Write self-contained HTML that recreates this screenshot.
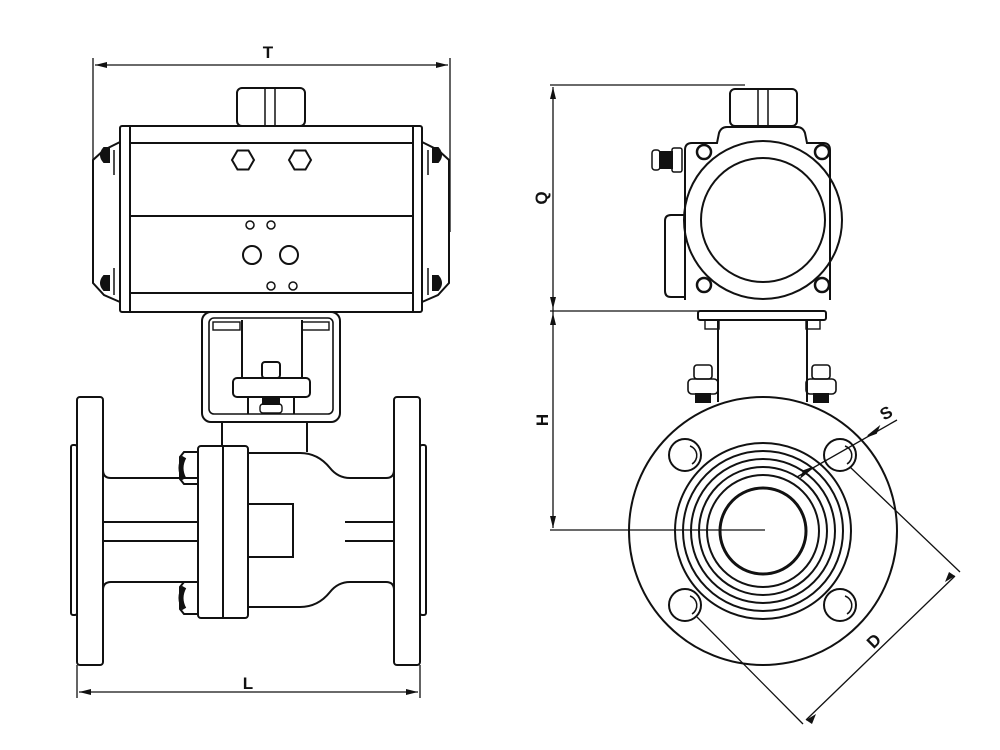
<!DOCTYPE html>
<html><head><style>html,body{margin:0;padding:0;background:#fff}svg{display:block}</style></head>
<body>
<svg width="1000" height="750" viewBox="0 0 1000 750" xmlns="http://www.w3.org/2000/svg" font-family="Liberation Sans, sans-serif">
<g fill="none" stroke="#111" stroke-width="2">
<!-- ===== LEFT VIEW ===== -->
<!-- T dimension -->
<line x1="93" y1="58" x2="93" y2="235" stroke-width="1.3"/>
<line x1="450" y1="58" x2="450" y2="232" stroke-width="1.3"/>
<line x1="95" y1="65" x2="448" y2="65" stroke-width="1.3"/>
<path d="M95 65 l12 -3 v6 z M448 65 l-12 -3 v6 z" fill="#111" stroke="none"/>
<!-- top cap -->
<rect x="237" y="88" width="68" height="38" rx="5"/>
<line x1="265" y1="88" x2="265" y2="126" stroke-width="1.5"/>
<line x1="275" y1="88" x2="275" y2="126" stroke-width="1.5"/>
<!-- actuator body -->
<rect x="120" y="126" width="302" height="186" rx="2"/>
<line x1="130" y1="126" x2="130" y2="312"/>
<line x1="413" y1="126" x2="413" y2="312"/>
<line x1="130" y1="143" x2="413" y2="143"/>
<line x1="130" y1="216" x2="413" y2="216"/>
<line x1="130" y1="293" x2="413" y2="293"/>
<polygon points="232,160 237.5,150.5 248.5,150.5 254,160 248.5,169.5 237.5,169.5"/>
<polygon points="289,160 294.5,150.5 305.5,150.5 311,160 305.5,169.5 294.5,169.5"/>
<circle cx="250" cy="225" r="4" stroke-width="1.5"/><circle cx="271" cy="225" r="4" stroke-width="1.5"/>
<circle cx="252" cy="255" r="9"/><circle cx="289" cy="255" r="9"/>
<circle cx="271" cy="286" r="4" stroke-width="1.5"/><circle cx="293" cy="286" r="4" stroke-width="1.5"/>
<!-- end caps -->
<path d="M120 142 L104 150 L93 160 L93 283 L104 295 L120 302"/>
<path d="M422 142 L438 150 L449 160 L449 283 L438 295 L422 302"/>
<path d="M104 148 q-6 7 0 14 h5 v-14 z M104 276 q-6 7 0 14 h5 v-14 z M438 148 q6 7 0 14 h-5 v-14 z M438 276 q6 7 0 14 h-5 v-14 z" fill="#111"/>
<line x1="114" y1="150" x2="114" y2="175" stroke-width="1.5"/>
<line x1="114" y1="268" x2="114" y2="295" stroke-width="1.5"/>
<line x1="428" y1="150" x2="428" y2="175" stroke-width="1.5"/>
<line x1="428" y1="268" x2="428" y2="295" stroke-width="1.5"/>
<!-- bracket -->
<rect x="202" y="312" width="138" height="110" rx="9"/>
<rect x="209" y="318" width="124" height="96" rx="5" stroke-width="1.6"/>
<rect x="213" y="322" width="27" height="8" stroke-width="1.4"/>
<rect x="302" y="322" width="27" height="8" stroke-width="1.4"/>
<line x1="242" y1="320" x2="242" y2="378"/>
<line x1="302" y1="320" x2="302" y2="378"/>
<rect x="262" y="362" width="18" height="16" rx="3"/>
<rect x="233" y="378" width="77" height="19" rx="4"/>
<line x1="248" y1="397" x2="248" y2="414"/><line x1="294" y1="397" x2="294" y2="414"/>
<rect x="263" y="397" width="16" height="7" fill="#111"/>
<rect x="260" y="404" width="22" height="9" rx="3" stroke-width="1.4"/>
<!-- neck -->
<line x1="222" y1="422" x2="222" y2="446"/>
<line x1="307" y1="422" x2="307" y2="452"/>
<!-- flanges -->
<rect x="77" y="397" width="26" height="268" rx="3"/>
<rect x="71" y="445" width="6" height="170" rx="2"/>
<rect x="394" y="397" width="26" height="268" rx="3"/>
<rect x="420" y="445" width="6" height="170" rx="2"/>
<!-- left pipe -->
<path d="M103 470 q0 8 8 8 H198"/>
<path d="M103 590 q0 -8 8 -8 H198"/>
<line x1="103" y1="522" x2="198" y2="522"/>
<line x1="103" y1="541" x2="198" y2="541"/>
<!-- body flange -->
<rect x="198" y="446" width="50" height="172" rx="3"/>
<line x1="223" y1="446" x2="223" y2="618"/>
<!-- bolts -->
<path d="M198 452 h-14 l-4 5 v22 l4 5 h14 z"/>
<path d="M184 457 q-6 11 0 22" stroke-width="5"/>
<path d="M198 582 h-14 l-4 5 v22 l4 5 h14 z"/>
<path d="M184 587 q-6 11 0 22" stroke-width="5"/>
<!-- body right -->
<path d="M248 453 H300 q18 0 30 15 q8 10 20 10 H386 q8 0 8 -8"/>
<path d="M248 607 H300 q18 0 30 -15 q8 -10 20 -10 H386 q8 0 8 8"/>
<rect x="248" y="504" width="45" height="53"/>
<line x1="345" y1="522" x2="394" y2="522"/>
<line x1="345" y1="541" x2="394" y2="541"/>
<!-- L dimension -->
<line x1="77" y1="665" x2="77" y2="698" stroke-width="1.3"/>
<line x1="420" y1="665" x2="420" y2="698" stroke-width="1.3"/>
<line x1="79" y1="692" x2="418" y2="692" stroke-width="1.3"/>
<path d="M79 692 l12 -3 v6 z M418 692 l-12 -3 v6 z" fill="#111" stroke="none"/>

<!-- ===== RIGHT VIEW ===== -->
<line x1="550" y1="85" x2="745" y2="85" stroke-width="1.3"/>
<line x1="550" y1="311" x2="700" y2="311" stroke-width="1.3"/>
<line x1="550" y1="530" x2="765" y2="530" stroke-width="1.3"/>
<line x1="553" y1="87" x2="553" y2="528" stroke-width="1.3"/>
<path d="M553 87 l-3 12 h6 z M553 309 l-3 -12 h6 z M553 313 l-3 12 h6 z M553 528 l-3 -12 h6 z" fill="#111" stroke="none"/>
<!-- top cap -->
<rect x="730" y="89" width="67" height="37" rx="5"/>
<line x1="758" y1="89" x2="758" y2="126" stroke-width="1.5"/>
<line x1="768" y1="89" x2="768" y2="126" stroke-width="1.5"/>
<!-- housing -->
<path d="M685 300 V150 q0 -7 7 -7 h25 l2 -10 q2 -6 8 -6 h70 q6 0 8 6 l2 10 h16 q7 0 7 7 V300"/>
<path d="M685 215 h-14 q-6 0 -6 6 v70 q0 6 6 6 h14"/>
<circle cx="763" cy="220" r="79"/>
<circle cx="763" cy="220" r="62"/>
<circle cx="704" cy="152" r="7" stroke-width="2.5"/><circle cx="822" cy="152" r="7" stroke-width="2.5"/>
<circle cx="704" cy="285" r="7" stroke-width="2.5"/><circle cx="822" cy="285" r="7" stroke-width="2.5"/>
<rect x="652" y="150" width="8" height="20" rx="3" stroke-width="1.5"/>
<rect x="660" y="152" width="12" height="16" fill="#111"/>
<rect x="672" y="148" width="10" height="24" rx="2" stroke-width="1.5"/>
<!-- bottom plate / neck -->
<rect x="698" y="311" width="128" height="9" rx="2"/>
<rect x="705" y="320" width="14" height="9" stroke-width="1.4"/>
<rect x="806" y="320" width="14" height="9" stroke-width="1.4"/>
<line x1="718" y1="320" x2="718" y2="402"/>
<line x1="807" y1="320" x2="807" y2="402"/>
<rect x="694" y="365" width="18" height="14" rx="3" stroke-width="1.6"/>
<rect x="688" y="379" width="30" height="15" rx="4" stroke-width="1.6"/>
<rect x="696" y="394" width="14" height="8" fill="#111"/>
<rect x="812" y="365" width="18" height="14" rx="3" stroke-width="1.6"/>
<rect x="806" y="379" width="30" height="15" rx="4" stroke-width="1.6"/>
<rect x="814" y="394" width="14" height="8" fill="#111"/>
<!-- flange -->
<circle cx="763" cy="531" r="134"/>
<circle cx="763" cy="531" r="88"/>
<circle cx="763" cy="531" r="80"/>
<circle cx="763" cy="531" r="72"/>
<circle cx="763" cy="531" r="64"/>
<circle cx="763" cy="531" r="56"/>
<circle cx="763" cy="531" r="43" stroke-width="3"/>
<circle cx="685" cy="455" r="16"/><path d="M690 446 a10 10 0 0 1 2 18" stroke-width="1.5"/>
<circle cx="840" cy="455" r="16"/><path d="M845 446 a10 10 0 0 1 2 18" stroke-width="1.5"/>
<circle cx="685" cy="605" r="16"/><path d="M690 596 a10 10 0 0 1 2 18" stroke-width="1.5"/>
<circle cx="840" cy="605" r="16"/><path d="M845 596 a10 10 0 0 1 2 18" stroke-width="1.5"/>
<!-- S leader -->
<line x1="797" y1="477" x2="897" y2="420" stroke-width="1.3"/>
<path d="M812 468 l-10 8 l2 -5 z M868 436 l10 -8 l-2 5 z" fill="#111" stroke-width="2"/>
<!-- D dims -->
<line x1="850" y1="467" x2="960" y2="572" stroke-width="1.3"/>
<line x1="697" y1="617" x2="803" y2="724" stroke-width="1.3"/>
<line x1="955" y1="576" x2="806" y2="720" stroke-width="1.3"/>
<path d="M955 576 l-10 6 l4 -10 z M806 720 l10 -6 l-4 10 z" fill="#111" stroke="none"/>
</g>
<g fill="#111" font-size="17" font-weight="bold">
<text x="268" y="58" text-anchor="middle">T</text>
<text x="248" y="689" text-anchor="middle">L</text>
<text transform="translate(547,198) rotate(-90)" text-anchor="middle">Q</text>
<text transform="translate(548,420) rotate(-90)" text-anchor="middle">H</text>
<text transform="translate(889,418) rotate(-30)" text-anchor="middle">S</text>
<text transform="translate(878,645) rotate(-45)" text-anchor="middle">D</text>
</g>
</svg>
</body></html>
